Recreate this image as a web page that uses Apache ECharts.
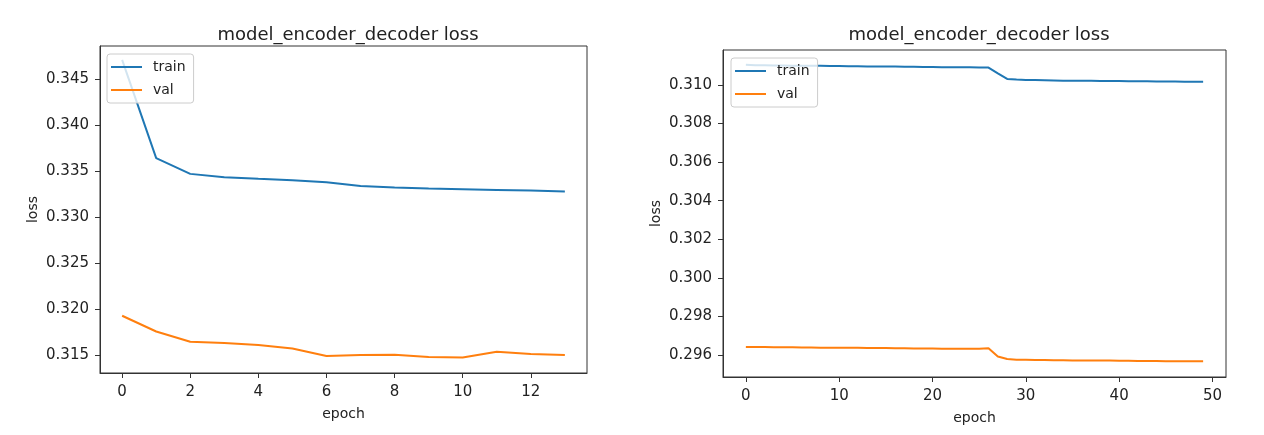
<!DOCTYPE html>
<html>
<head>
<meta charset="utf-8">
<script src="https://cdn.jsdelivr.net/npm/echarts@6/dist/echarts.min.js"></script>
<style>
html,body{margin:0;padding:0;background:#fff;}
#c{width:1264px;height:435px;}
</style>
</head>
<body>
<div id="c"></div>
<script>
// ---- data ----
const titleText = 'model_encoder_decoder loss';
const leftEpochs = [0,1,2,3,4,5,6,7,8,9,10,11,12,13];
const leftTrain = [0.3471,0.33643,0.33472,0.33436,0.33418,0.33404,0.33382,0.33339,0.33323,0.33313,0.33306,0.33298,0.33291,0.3328];
const leftVal = [0.31931,0.3176,0.31649,0.31634,0.31613,0.31576,0.31493,0.31504,0.31508,0.31483,0.31478,0.3154,0.31515,0.31504];
const leftXTicks = [0,2,4,6,8,10,12];
const leftYTicks = [0.315,0.320,0.325,0.330,0.335,0.340,0.345];

const rightTrain = [0.31104,0.31102,0.31102,0.31101,0.31101,0.31100,0.31100,0.31099,0.31099,0.31098,
  0.31098,0.31097,0.31097,0.31096,0.31096,0.31095,0.31095,0.31094,0.31094,0.31093,
  0.31093,0.31092,0.31092,0.31091,0.31091,0.31090,0.31090,0.31060,0.31031,0.31028,
  0.31026,0.31025,0.31024,0.31023,0.31022,0.31022,0.31021,0.31021,0.31020,0.31020,
  0.31020,0.31019,0.31019,0.31019,0.31018,0.31018,0.31018,0.31017,0.31017,0.31017];
const rightVal = [0.29642,0.29641,0.29641,0.29640,0.29640,0.29640,0.29639,0.29639,0.29638,0.29638,
  0.29638,0.29637,0.29637,0.29636,0.29636,0.29636,0.29635,0.29635,0.29634,0.29634,
  0.29634,0.29633,0.29633,0.29632,0.29632,0.29633,0.29635,0.29592,0.29579,0.29576,
  0.29575,0.29574,0.29574,0.29573,0.29573,0.29572,0.29572,0.29571,0.29571,0.29571,
  0.29570,0.29570,0.29569,0.29569,0.29569,0.29568,0.29568,0.29568,0.29567,0.29567];
const rightEpochs = rightTrain.map((_, i) => i);
const rightXTicks = [0,10,20,30,40,50];
const rightYTicks = [0.296,0.298,0.300,0.302,0.304,0.306,0.308,0.310];
const legendNames = ['train','val'];

// ---- chart ----
const FONT = 'DejaVu Sans';
const TXT = '#222';
const AX = '#333';
const BLUE = '#1f77b4';
const ORANGE = '#ff7f0e';

function xAx(gi, min, max, ticks) {
  return {
    type: 'value', gridIndex: gi, min: min, max: max,
    name: 'epoch', nameLocation: 'middle', nameGap: 34,
    nameTextStyle: {fontFamily: FONT, fontSize: 14, color: TXT},
    axisLine: {show: true, onZero: false, lineStyle: {color: AX, width: 1}},
    axisTick: {show: true, inside: false, length: 5, customValues: ticks, lineStyle: {color: AX, width: 1}},
    axisLabel: {customValues: ticks, margin: 12, fontFamily: FONT, fontSize: 15, color: TXT, formatter: v => String(v)},
    splitLine: {show: false}
  };
}
function yAx(gi, min, max, ticks) {
  return {
    type: 'value', gridIndex: gi, min: min, max: max,
    name: 'loss', nameLocation: 'middle', nameGap: 60,
    nameTextStyle: {fontFamily: FONT, fontSize: 14, color: TXT},
    axisLine: {show: true, onZero: false, lineStyle: {color: AX, width: 1}},
    axisTick: {show: true, inside: false, length: 5, customValues: ticks, lineStyle: {color: AX, width: 1}},
    axisLabel: {customValues: ticks, margin: 11, fontFamily: FONT, fontSize: 15, color: TXT, formatter: v => v.toFixed(3)},
    splitLine: {show: false}
  };
}
function lineS(name, xi, xs, ys, color) {
  return {
    name: name, type: 'line', xAxisIndex: xi, yAxisIndex: xi,
    data: xs.map((x, i) => [x, ys[i]]),
    showSymbol: false, symbol: 'none', smooth: false,
    lineStyle: {color: color, width: 2},
    itemStyle: {color: color},
    emphasis: {disabled: true},
    animation: false
  };
}
function legend(left, top) {
  return {
    orient: 'vertical', left: left, top: top,
    data: legendNames.map(n => ({name: n, icon: 'rect'})),
    itemWidth: 31, itemHeight: 2, itemGap: 9,
    padding: [6, 8, 6, 4],
    backgroundColor: 'rgba(255,255,255,0.8)',
    borderColor: '#cccccc', borderWidth: 1, borderRadius: 3,
    textStyle: {fontFamily: FONT, fontSize: 14, color: TXT, padding: [0, 0, 0, 6]},
    selectedMode: false
  };
}

const chart = echarts.init(document.getElementById('c'), null, {renderer: 'canvas'});
chart.setOption({
  backgroundColor: '#fff',
  animation: false,
  title: [
    {text: titleText, left: 343, top: 21, textAlign: 'center',
     textStyle: {fontFamily: FONT, fontSize: 18, fontWeight: 'normal', color: TXT}},
    {text: titleText, left: 974, top: 21, textAlign: 'center',
     textStyle: {fontFamily: FONT, fontSize: 18, fontWeight: 'normal', color: TXT}}
  ],
  grid: [
    {left: 100, top: 46, right: 677, bottom: 62, show: true, borderColor: AX, borderWidth: 1, backgroundColor: 'transparent'},
    {left: 723, top: 50, right: 38, bottom: 58, show: true, borderColor: AX, borderWidth: 1, backgroundColor: 'transparent'}
  ],
  legend: [legend(107, 54), legend(731, 58)],
  xAxis: [xAx(0, -0.65, 13.65, leftXTicks), xAx(1, -2.45, 51.45, rightXTicks)],
  yAxis: [yAx(0, 0.31309, 0.34861, leftYTicks), yAx(1, 0.29486, 0.31181, rightYTicks)],
  series: [
    lineS('train', 0, leftEpochs, leftTrain, BLUE),
    lineS('val', 0, leftEpochs, leftVal, ORANGE),
    lineS('train', 1, rightEpochs, rightTrain, BLUE),
    lineS('val', 1, rightEpochs, rightVal, ORANGE)
  ]
});
</script>
</body>
</html>
